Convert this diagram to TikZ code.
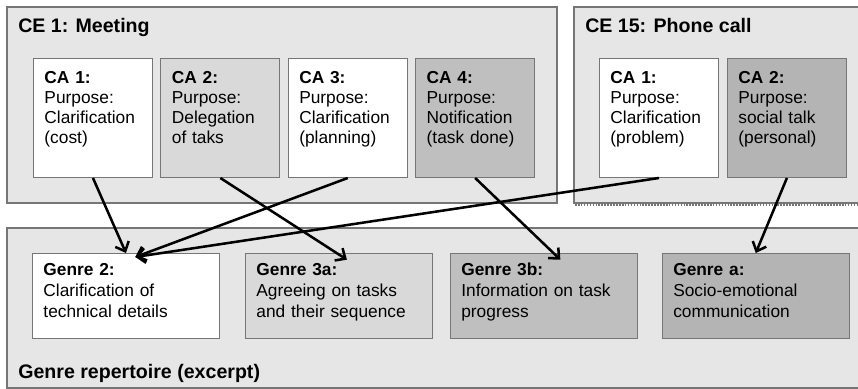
\documentclass[tikz,border=0pt]{standalone}
\usepackage{fontspec}
\setmainfont{Liberation Sans}
\usepackage{tikz}
\usetikzlibrary{arrows.meta,positioning}
\definecolor{groupfill}{HTML}{E6E6E6}
\definecolor{groupline}{HTML}{767676}
\definecolor{lightact}{HTML}{D9D9D9}
\definecolor{midact}{HTML}{BFBFBF}
\definecolor{darkact}{HTML}{B4B4B4}
\tikzset{
  groupbox/.style={draw=groupline,fill=groupfill,line width=0.8pt},
  grouptitle/.style={anchor=base west,inner sep=0pt,
    font=\fontsize{14.7}{17}\selectfont\bfseries},
  assignarrow/.style={-{Straight Barb[length=6pt,width=11pt]},line width=1.9pt}
}

\begin{document}
\begin{tikzpicture}[x=0.75pt,y=-0.75pt,
  actbox/.style={
    draw=groupline,fill=white,line width=0.7pt,anchor=north west,
    align=left,text width=72.75pt,inner xsep=8.25pt,inner ysep=9.5pt,
    text height=9.5pt,text depth=60.8pt,font=\fontsize{13}{15}\selectfont
  },
  genrebox/.style={
    draw=groupline,fill=white,line width=0.7pt,anchor=north west,
    align=left,text width=123.75pt,inner xsep=8.25pt,inner ysep=7pt,
    text height=9.5pt,text depth=40.25pt,font=\fontsize{13}{15.75}\selectfont
  }
]
  \useasboundingbox (0,0) rectangle (858,389);
  % communicative events and the repertoire
  \draw[groupbox] (7,7) rectangle (557,203);
  \draw[groupbox] (574,7) rectangle (866,203);
  \draw[groupline,densely dotted,line width=1.2pt] (575,205) -- (866,205);
  \draw[groupbox] (7,228) rectangle (866,388);
  \node[grouptitle] (meetingtitle) at (18,32) {CE 1: Meeting};
  \node[grouptitle] (calltitle) at (585,32) {CE 15: Phone call};
  \node[grouptitle] (repertoiretitle) at (18,378) {Genre repertoire (excerpt)};

  \node[actbox] (meetcost) at (33,58)
    {\textbf{CA 1:}\\Purpose:\\Clarification\\(cost)};
  \node[actbox,fill=lightact,right=5.6pt of meetcost] (meetdelegation)
    {\textbf{CA 2:}\\Purpose:\\Delegation\\of taks};
  \node[actbox,right=5.6pt of meetdelegation] (meetplanning)
    {\textbf{CA 3:}\\Purpose:\\Clarification\\(planning)};
  \node[actbox,fill=midact,right=5.6pt of meetplanning] (meetnotify)
    {\textbf{CA 4:}\\Purpose:\\Notification\\(task done)};

  \node[actbox] (callproblem) at (599,58)
    {\textbf{CA 1:}\\Purpose:\\Clarification\\(problem)};
  \node[actbox,fill=darkact,right=6pt of callproblem] (callsocial)
    {\textbf{CA 2:}\\Purpose:\\social talk\\(personal)};

  \node[genrebox] (genreclar) at (32,253)
    {\textbf{Genre 2:}\\Clarification of\\technical details};
  \node[genrebox,fill=lightact,right=18.75pt of genreclar] (genreagree)
    {\textbf{Genre 3a:}\\Agreeing on tasks\\and their sequence};
  \node[genrebox,fill=midact,right=12.75pt of genreagree] (genreprogress)
    {\textbf{Genre 3b:}\\Information on task\\progress};
  \node[genrebox,fill=darkact,right=18pt of genreprogress] (genresocial)
    {\textbf{Genre a:}\\Socio-emotional\\communication};

  \draw[assignarrow] (meetcost.south) -- (genreclar.north);
  \draw[assignarrow] (meetdelegation.south) -- ([xshift=6pt,yshift=-5pt]genreagree.north);
  \draw[assignarrow] (meetplanning.south) -- ([xshift=7pt,yshift=-3pt]genreclar.north);
  \draw[assignarrow] (meetnotify.south) -- ([xshift=12.4pt,yshift=-5pt]genreprogress.north);
  \draw[assignarrow] (callproblem.south) -- ([xshift=7pt,yshift=-3pt]genreclar.north);
  \draw[assignarrow] (callsocial.south) -- (genresocial.north);
\end{tikzpicture}
\end{document}
